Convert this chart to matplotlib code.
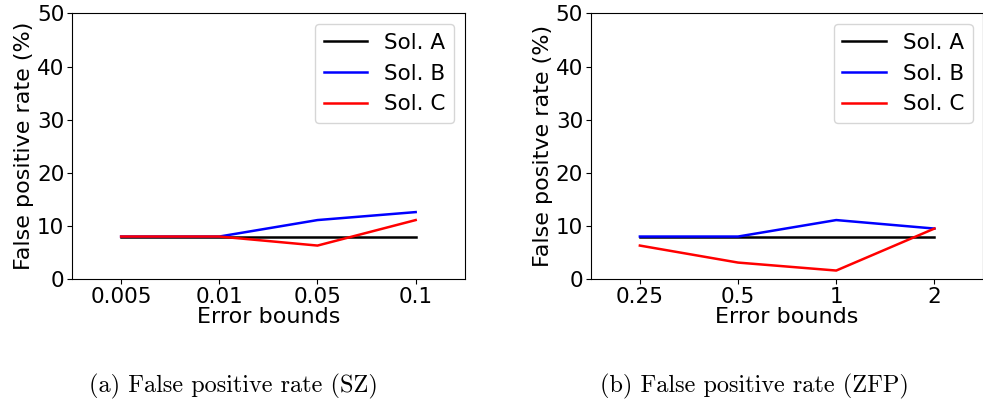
import matplotlib
matplotlib.use("Agg")
from matplotlib import pyplot as plt

# Left panel (SZ)
sz_bounds = ["0.005", "0.01", "0.05", "0.1"]
sz_sol_a = [8.0, 8.0, 8.0, 8.0]
sz_sol_b = [8.0, 8.0, 11.1, 12.6]
sz_sol_c = [8.0, 8.0, 6.3, 11.1]

# Right panel (ZFP)
zfp_bounds = ["0.25", "0.5", "1", "2"]
zfp_sol_a = [8.0, 8.0, 8.0, 8.0]
zfp_sol_b = [8.0, 8.0, 11.1, 9.5]
zfp_sol_c = [6.3, 3.1, 1.6, 9.5]

labels = ["Sol. A", "Sol. B", "Sol. C"]
colors = ["black", "blue", "red"]

plt.rcParams.update({"font.size": 15.5})
fig = plt.figure(figsize=(9.83, 4.05), dpi=100)

ax1 = fig.add_axes([0.0733, 0.311, 0.3995, 0.656])
ax2 = fig.add_axes([0.601, 0.311, 0.3995, 0.656])

panels = [
  (ax1, sz_bounds, [sz_sol_a, sz_sol_b, sz_sol_c], "False positive rate (%)"),
  (ax2, zfp_bounds, [zfp_sol_a, zfp_sol_b, zfp_sol_c], "False positve rate (%)"),
]
for ax, bounds, series, ylabel in panels:
  x = list(range(len(bounds)))
  for vals, lab, col in zip(series, labels, colors):
    ax.plot(x, vals, color=col, label=lab, linewidth=1.8)
  ax.set_xticks(x)
  ax.set_xticklabels(bounds)
  ax.set_xlim(-0.5, len(bounds) - 0.5)
  ax.set_ylim(0, 50)
  ax.set_yticks([0, 10, 20, 30, 40, 50])
  ax.tick_params(pad=2)
  ax.set_xlabel("Error bounds", fontsize=16, labelpad=0)
  ax.set_ylabel(ylabel, fontsize=16, labelpad=2)
  ax.legend(loc="upper right")

fig.text(0.237, 0.047, "(a) False positive rate (SZ)", family="cmr10",
         fontsize=17.5, ha="center", va="center")
fig.text(0.767, 0.047, "(b) False positive rate (ZFP)", family="cmr10",
         fontsize=17.5, ha="center", va="center")

fig.savefig("out.png", dpi=100)
